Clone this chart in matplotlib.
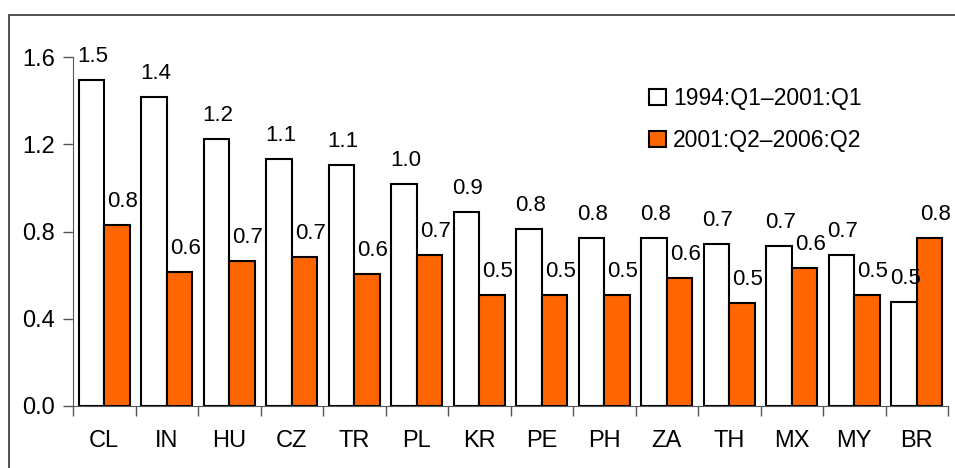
import numpy as np
import matplotlib.pyplot as plt
from matplotlib.patches import Rectangle

plt.rcParams['font.family'] = ['Liberation Sans', 'DejaVu Sans']

countries = ["CL", "IN", "HU", "CZ", "TR", "PL", "KR", "PE", "PH", "ZA", "TH", "MX", "MY", "BR"]
period_1 = [1.495, 1.417, 1.225, 1.133, 1.105, 1.018, 0.89, 0.81, 0.77, 0.77, 0.743, 0.734, 0.693, 0.477]
period_2 = [0.83, 0.615, 0.665, 0.683, 0.605, 0.693, 0.509, 0.509, 0.509, 0.587, 0.472, 0.633, 0.509, 0.77]
labels = ["1994:Q1\u20132001:Q1", "2001:Q2\u20132006:Q2"]

W, H = 955, 468
fig = plt.figure(figsize=(W / 100, H / 100), dpi=100)
ax = fig.add_axes([73 / W, (H - 406) / H, (948 - 73) / W, (406 - 57) / H])

x = np.arange(len(countries))
bw = 0.41
b1 = ax.bar(x - bw / 2, period_1, bw, color="white", edgecolor="black", linewidth=1.5, label=labels[0])
b2 = ax.bar(x + bw / 2, period_2, bw, color="#ff6600", edgecolor="black", linewidth=1.5, label=labels[1])

# value labels sit above each bar, orange ones nudged right
for bars, vals, dx in [(b1, period_1, 1), (b2, period_2, 4)]:
    for rect, v in zip(bars, vals):
        ax.annotate(f"{v:.1f}", (rect.get_x() + rect.get_width() / 2, v),
                    xytext=(dx, 17), textcoords="offset points",
                    ha="center", va="center", fontsize=16)

ax.set_xlim(-0.5, len(countries) - 0.5)
ax.set_ylim(0, 1.6)
yt = [0.0, 0.4, 0.8, 1.2, 1.6]
ax.set_yticks(yt)
ax.set_yticklabels([f"{t:.1f}" for t in yt])
ax.set_xticks(x)
ax.set_xticklabels(countries)
ax.set_xticks(np.arange(len(countries) + 1) - 0.5, minor=True)
ax.tick_params(axis="x", which="major", length=0, pad=17, labelsize=17)
ax.tick_params(axis="x", which="minor", length=7, width=1, color="#555555")
ax.tick_params(axis="y", length=7, width=1, color="#555555", labelsize=17, pad=6)
for side in ["top", "right"]:
    ax.spines[side].set_visible(False)
for side in ["left", "bottom"]:
    ax.spines[side].set_color("#555555")

ax.legend(loc="upper left", bbox_to_anchor=(0.658, 0.915), frameon=False, fontsize=16.5,
          handlelength=0.75, handleheight=0.7, handletextpad=0.3, labelspacing=0.85,
          borderaxespad=0, borderpad=0)

# outer frame around the chart
fig.patches.append(Rectangle((8.5 / W, -0.1), 1.1, 1.1 - 15 / H, transform=fig.transFigure,
                             fill=False, edgecolor="#333333", linewidth=1.2))

fig.savefig("out.png", dpi=100)
